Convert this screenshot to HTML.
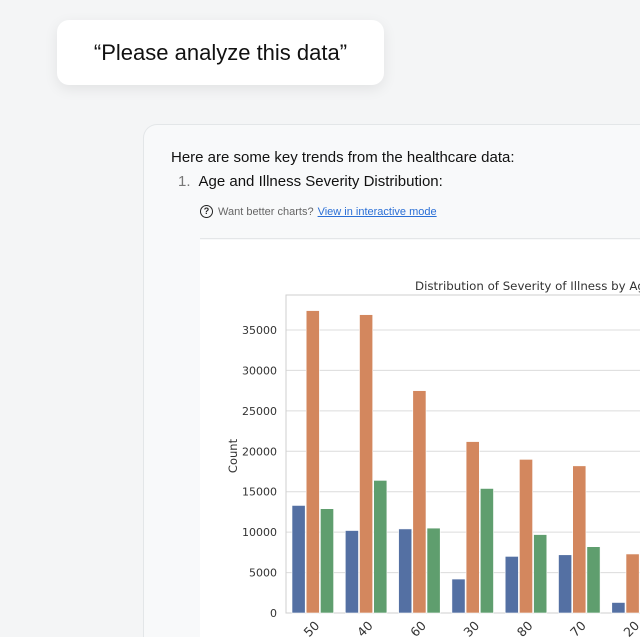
<!DOCTYPE html>
<html><head><meta charset="utf-8">
<style>
html,body{margin:0;padding:0;width:640px;height:637px;overflow:hidden;}
body{background:#f4f5f6;font-family:"Liberation Sans",sans-serif;}
#wrap{position:relative;width:640px;height:637px;overflow:hidden;}
.bubble{position:absolute;left:57px;top:20px;width:327px;height:65px;background:#fff;border-radius:12px;box-shadow:0 4px 14px rgba(0,0,0,0.08);display:flex;align-items:center;justify-content:center;font-size:22px;color:#111;}
.card{position:absolute;left:143px;top:124px;width:497px;height:513px;background:#f8f9fa;border:1px solid #e3e6e8;border-right:none;border-bottom:none;border-radius:14px 0 0 0;box-sizing:border-box;}
.t1{position:absolute;left:171px;top:149px;font-size:15px;color:#111;}
.t2{position:absolute;left:178px;top:173px;font-size:15px;color:#111;}
.t2 span{color:#777;margin-right:8px;}
.hint{position:absolute;left:200px;top:205px;font-size:11px;color:#666;display:flex;align-items:center;}
.hint .q{width:11px;height:11px;border:1.3px solid #222;border-radius:50%;font-size:9px;line-height:11px;text-align:center;color:#222;margin-right:5px;font-weight:bold;}
.hint a{color:#2a6fd6;text-decoration:underline;margin-left:4px;}
.divider{position:absolute;left:200px;top:238px;width:440px;height:1px;background:#e4e6e8;}
.panel{position:absolute;left:200px;top:240px;width:440px;height:397px;background:#fff;}
svg{position:absolute;left:0;top:0;}
</style></head><body>
<div id="wrap">
<div class="bubble">“Please analyze this data”</div>
<div class="card"></div>
<div class="t1">Here are some key trends from the healthcare data:</div>
<div class="t2"><span>1.</span>Age and Illness Severity Distribution:</div>
<div class="hint"><div class="q">?</div>Want better charts?<a>View in interactive mode</a></div>
<div class="divider"></div>
<div class="panel"></div>
<svg id="chart" width="640" height="637"></svg>
</div>
<script>
const categories=["50","40","60","30","80","70","20"];
const seriesA=[13300,10200,10400,4200,7000,7200,1300];
const seriesB=[37400,36900,27500,21200,19000,18200,7300];
const seriesC=[12900,16400,10500,15400,9700,8200,2000];
const yTicks=[0,5000,10000,15000,20000,25000,30000,35000];
const colors=["#5470a3","#d3875e","#5f9e6e"];
const NS="http://www.w3.org/2000/svg";
const svg=document.getElementById('chart');
const x0=286,step=53.3,y0=613,pxPer=283/35000,plotTop=295,plotRight=700;
function yScale(v){return y0-v*pxPer;}
function xBand(i){return x0+i*step;}
function mk(t,a){const e=document.createElementNS(NS,t);for(const k in a)e.setAttribute(k,a[k]);svg.appendChild(e);return e;}
const clip=mk('clipPath',{id:'cp'});
const cr=document.createElementNS(NS,'rect');cr.setAttribute('x',200);cr.setAttribute('y',240);cr.setAttribute('width',440);cr.setAttribute('height',397);clip.appendChild(cr);
const g=document.createElementNS(NS,'g');g.setAttribute('clip-path','url(#cp)');svg.appendChild(g);
function add(t,a){const e=document.createElementNS(NS,t);for(const k in a)e.setAttribute(k,a[k]);g.appendChild(e);return e;}
yTicks.forEach(v=>{
 const l=add('line',{x1:x0,x2:plotRight,y1:yScale(v),y2:yScale(v),stroke:'#dcdcdc','stroke-width':1});
 
 
 const t=add('text',{x:x0-9,y:yScale(v)+4,'text-anchor':'end','font-size':11,fill:'#333','font-family':'DejaVu Sans, sans-serif'});
 t.textContent=v;
 
 
});
const frame=add('rect',{x:x0,y:plotTop,width:plotRight-x0,height:y0-plotTop,fill:'none',stroke:'#cfcfcf','stroke-width':1});


const series=[seriesA,seriesB,seriesC];
categories.forEach((c,i)=>{
 series.forEach((s,j)=>{
  const bx=xBand(i)+6+j*14.2;
  const r=add('rect',{x:bx,y:yScale(s[i]),width:13.2,height:y0-yScale(s[i]),fill:colors[j],stroke:'#fff','stroke-width':0.6});
  
  
 });
 const cx=xBand(i)+step/2+2, cy=y0+19;
 const t=add('text',{x:cx,y:cy,'text-anchor':'middle','font-size':12.5,fill:'#333','font-family':'DejaVu Sans, sans-serif',transform:'rotate(-45 '+cx+' '+cy+')'});
 t.textContent=c;
 
 
});
const yl=add('text',{x:237,y:456,'text-anchor':'middle','font-size':11.5,fill:'#333','font-family':'DejaVu Sans, sans-serif',transform:'rotate(-90 237 456)'});
yl.textContent='Count';


const tt=add('text',{x:415,y:290,'font-size':11.8,fill:'#333','font-family':'DejaVu Sans, sans-serif'});
tt.textContent='Distribution of Severity of Illness by Age';


</script>
</body></html>
